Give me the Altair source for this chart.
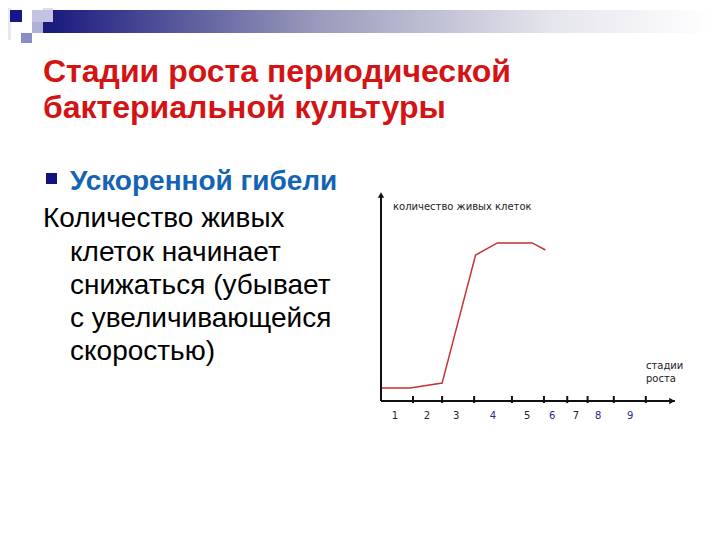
import altair as alt
import pandas as pd

# ---- data ----
stage_x = [0, 1.0, 2.1, 3.25, 4.0, 5.2, 5.65]
cell_count = [6.3, 6.3, 8.6, 70.2, 76.0, 76.0, 72.6]
tick_pos = [1.1, 2.1, 3.2, 4.5, 5.6, 6.4, 7.1, 8.0, 9.1]
label_pos = [0.48, 1.58, 2.58, 3.85, 5.02, 5.88, 6.70, 7.46, 8.56]
label_txt = ["1", "2", "3", "4", "5", "6", "7", "8", "9"]
label_grp = ["k", "k", "k", "b", "k", "b", "k", "b", "b"]

title_lines = ["Стадии роста периодической", "бактериальной культуры"]
bullet_head = "Ускоренной гибели"
body_lines = ["Количество живых", "клеток начинает", "снижаться (убывает",
              "с увеличивающейся", "скоростью)"]
y_title = "количество живых клеток"
x_title = ["стадии", "роста"]

W, H = 704, 524
def P(v):
    return v - 8

xs = alt.Scale(domain=[0, 10], range=[P(381), P(672)])
ys = alt.Scale(domain=[0, 100], range=[P(401), P(193)])

one = pd.DataFrame({"a": [0]})
layers = []

# ---- decoration (top left) ----
def rect(x1, y1, x2, y2, color):
    return alt.Chart(one).mark_rect(color=color).encode(
        x=alt.value(P(x1)), x2=alt.value(P(x2)), y=alt.value(P(y1)), y2=alt.value(P(y2)))

grad = alt.LinearGradient(gradient="linear", stops=[
    alt.GradientStop(color="#1c1c80", offset=0),
    alt.GradientStop(color="#9a9abb", offset=0.4),
    alt.GradientStop(color="#e4e4ec", offset=0.75),
    alt.GradientStop(color="#ffffff", offset=1)], x1=0, x2=1, y1=0, y2=0)
layers.append(alt.Chart(one).mark_rect(color=grad).encode(
    x=alt.value(P(53)), x2=alt.value(P(712)), y=alt.value(P(10)), y2=alt.value(P(33))))
layers.append(rect(8, 0, 11, 40, "#e8e8f2"))
layers.append(rect(43, 0, 53, 10, "#dcdcee"))
layers.append(rect(32, 10, 53, 22, "#c4c4e2"))
layers.append(rect(43, 22, 53, 33, "#1c1c80"))
layers.append(rect(32, 22, 43, 33, "#b0b0d8"))
layers.append(rect(21, 33, 32, 43, "#8c8cc8"))
layers.append(rect(10, 10, 22, 22, "#16168c"))

# ---- slide text ----
def text(s, x, y, size, color, weight="normal", font="Liberation Sans"):
    return alt.Chart(one).mark_text(
        text=s, align="left", baseline="alphabetic", font=font,
        fontSize=size, fontWeight=weight, color=color).encode(
        x=alt.value(P(x)), y=alt.value(P(y)))

layers.append(text(title_lines[0], 43, 82, 32, "#d41414", "bold"))
layers.append(text(title_lines[1], 43, 118, 32, "#d41414", "bold"))
layers.append(rect(46, 173, 57, 184, "#12127e"))
layers.append(text(bullet_head, 70, 190, 28, "#1464b4", "bold"))
body_x = [43, 70, 70, 70, 70]
body_y = [227, 261, 294, 327, 360]
for s, bx, by in zip(body_lines, body_x, body_y):
    layers.append(text(s, bx, by, 28, "#000000"))

# ---- chart ----
line_df = pd.DataFrame({"x": stage_x, "y": cell_count})
layers.append(alt.Chart(line_df).mark_line(color="#c43434", strokeWidth=1.5).encode(
    x=alt.X("x:Q", scale=xs, axis=None), y=alt.Y("y:Q", scale=ys, axis=None)))

ax_df = pd.DataFrame({"x": [0, 0], "y": [0, 0], "x2": [10.1, 0], "y2": [0, 99.5]})
layers.append(alt.Chart(ax_df).mark_rule(color="#111111", strokeWidth=2).encode(
    x=alt.X("x:Q", scale=xs, axis=None), x2="x2:Q",
    y=alt.Y("y:Q", scale=ys, axis=None), y2="y2:Q"))

arrow_df = pd.DataFrame({"x": [10.0, 0], "y": [0, 99.0], "s": ["triangle-right", "triangle-up"]})
layers.append(alt.Chart(arrow_df).mark_point(filled=True, color="#111111", size=40, opacity=1).encode(
    x=alt.X("x:Q", scale=xs, axis=None), y=alt.Y("y:Q", scale=ys, axis=None),
    shape=alt.Shape("s:N", scale=None, legend=None)))

tick_df = pd.DataFrame({"x": tick_pos, "y": [-1.0] * len(tick_pos), "y2": [2.4] * len(tick_pos)})
layers.append(alt.Chart(tick_df).mark_rule(color="#111111", strokeWidth=2).encode(
    x=alt.X("x:Q", scale=xs, axis=None), y=alt.Y("y:Q", scale=ys, axis=None), y2="y2:Q"))

lab_df = pd.DataFrame({"x": label_pos, "t": label_txt, "g": label_grp, "y": [-7.2] * 9})
layers.append(alt.Chart(lab_df).mark_text(font="DejaVu Sans", fontSize=10, baseline="middle").encode(
    x=alt.X("x:Q", scale=xs, axis=None), y=alt.Y("y:Q", scale=ys, axis=None), text="t:N",
    color=alt.Color("g:N", scale=alt.Scale(domain=["k", "b"], range=["#222222", "#2a2a8c"]), legend=None)))

layers.append(text(y_title, 393, 210, 10, "#222222", font="DejaVu Sans"))
layers.append(text(x_title[0], 646, 369, 10, "#222222", font="DejaVu Sans"))
layers.append(text(x_title[1], 646, 382, 10, "#222222", font="DejaVu Sans"))

chart = alt.layer(*layers).properties(
    width=W, height=H, autosize=alt.AutoSizeParams(type="none"), padding=0
).configure_view(stroke=None)

chart.save("out.html", embed_options={"renderer": "svg", "actions": False})
